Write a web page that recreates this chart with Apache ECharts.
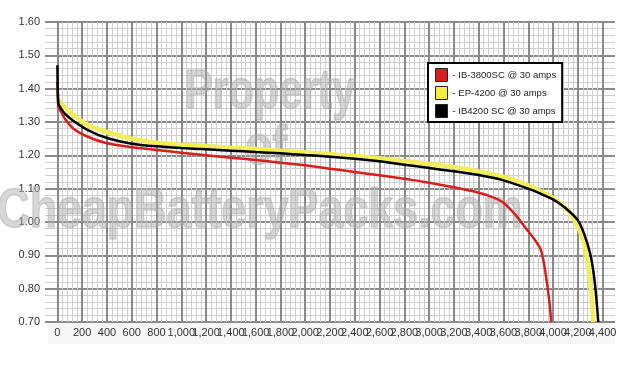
<!DOCTYPE html>
<html><head><meta charset="utf-8">
<script src="https://cdn.jsdelivr.net/npm/echarts@6/dist/echarts.min.js"></script>
<style>html,body{margin:0;padding:0;background:#fff}#c{width:640px;height:369px}</style>
</head><body><div id="c"></div>
<script>
const seriesNames = ['IB-3800SC @ 30 amps', 'EP-4200 @ 30 amps', 'IB4200 SC @ 30 amps'];
const redX = [0, 8, 30, 60, 130, 250, 400, 600, 800, 1000, 1200, 1400, 1600, 1800, 2000, 2200, 2400, 2600, 2800, 3000, 3200, 3400, 3500, 3600, 3700, 3800, 3850, 3900, 3920, 3940, 3960, 3975, 3985];
const redY = [1.42, 1.345, 1.33, 1.31, 1.28, 1.255, 1.236, 1.224, 1.216, 1.208, 1.200, 1.193, 1.186, 1.178, 1.170, 1.160, 1.150, 1.140, 1.130, 1.118, 1.104, 1.088, 1.076, 1.058, 1.020, 0.972, 0.948, 0.918, 0.888, 0.845, 0.792, 0.745, 0.700];
const yellowX = [0, 30, 130, 250, 400, 600, 800, 1000, 1200, 1400, 1600, 1800, 2000, 2200, 2400, 2600, 2800, 3000, 3200, 3400, 3600, 3800, 3900, 4000, 4100, 4150, 4200, 4230, 4260, 4290, 4310, 4325];
const yellowY = [1.37, 1.355, 1.32, 1.29, 1.27, 1.25, 1.238, 1.232, 1.228, 1.223, 1.219, 1.214, 1.209, 1.204, 1.198, 1.191, 1.183, 1.175, 1.165, 1.152, 1.135, 1.11, 1.092, 1.072, 1.042, 1.02, 0.985, 0.96, 0.92, 0.85, 0.78, 0.70];
const blackX = [0, 8, 30, 60, 130, 250, 400, 600, 800, 1000, 1200, 1400, 1600, 1800, 2000, 2200, 2400, 2600, 2800, 3000, 3200, 3400, 3600, 3800, 3900, 4000, 4100, 4200, 4250, 4300, 4330, 4350, 4365];
const blackY = [1.47, 1.355, 1.34, 1.325, 1.303, 1.275, 1.252, 1.235, 1.227, 1.222, 1.218, 1.214, 1.210, 1.206, 1.201, 1.196, 1.190, 1.182, 1.172, 1.162, 1.152, 1.141, 1.125, 1.100, 1.085, 1.068, 1.042, 1.005, 0.965, 0.905, 0.84, 0.77, 0.70];
const xTickMin = 0, xTickMax = 4400, xTickStep = 200;
const yMin = 0.7, yMax = 1.6, yStep = 0.1;
const watermark = ['Property', 'of', 'CheapBatteryPacks.com'];

function pairs(xs, ys) { return xs.map((x, i) => [x, ys[i]]); }
function commas(v) { return String(v).replace(/\B(?=(\d{3})+(?!\d))/g, ','); }

const XMIN = -100, XMAX = 4500;
const GL = 45, GR = 25, GT = 22, GB = 47;
const PW = 640 - GL - GR;
const pxPerUnit = PW / (XMAX - XMIN);
const innerLeft = GL + (xTickMin - XMIN) * pxPerUnit;
const innerWidth = (xTickMax - xTickMin) * pxPerUnit;
const MAJOR = '#8a8a8a', MINOR = '#cfcfcf';

const chart = echarts.init(document.getElementById('c'), null, {renderer: 'canvas'});
const wmStyle = {fill: 'rgba(170,170,170,0.47)', stroke: 'rgba(170,170,170,0.47)', lineWidth: 1.5,
  font: 'bold 56px "Liberation Sans", Arial', textAlign: 'center', textVerticalAlign: 'middle'};
chart.setOption({
  animation: false,
  backgroundColor: '#fff',
  grid: [
    {left: GL, right: GR, top: GT, bottom: GB, containLabel: false},
    {left: innerLeft, width: innerWidth, top: GT, bottom: GB, containLabel: false}
  ],
  graphic: [
    {type: 'rect', left: 48, top: 323, shape: {width: 567, height: 21}, style: {fill: '#f7f7f7'}, z: -10},
    {type: 'text', x: 270, y: 93, scaleX: 0.74, style: Object.assign({text: watermark[0]}, wmStyle), z: 1},
    {type: 'text', x: 266, y: 149, scaleX: 0.8, style: Object.assign({text: watermark[1]}, wmStyle), z: 1},
    {type: 'text', x: 260, y: 212, scaleX: 0.8, style: Object.assign({text: watermark[2]}, wmStyle), z: 1}
  ],
  legend: {
    orient: 'vertical', left: 428, top: 63,
    data: seriesNames,
    icon: 'rect', itemWidth: 12, itemHeight: 13, itemGap: 4,
    padding: [5, 6, 4, 7],
    backgroundColor: '#fff', borderColor: '#000', borderWidth: 2, borderRadius: 0,
    itemStyle: {borderColor: '#222', borderWidth: 1},
    formatter: n => '- ' + n,
    textStyle: {fontSize: 9.5, color: '#222', fontFamily: '"Liberation Sans", Arial'},
    z: 10
  },
  xAxis: [
    {type: 'value', gridIndex: 0, min: XMIN, max: XMAX, interval: 100,
     axisLine: {show: false}, axisTick: {show: false}, splitLine: {show: false},
     axisLabel: {margin: 5, fontSize: 11, color: '#333', fontFamily: '"Liberation Sans Narrow", "Liberation Sans", Arial',
       formatter: v => (v >= xTickMin && v <= xTickMax && v % xTickStep === 0) ? commas(v) : ''}},
    {type: 'value', gridIndex: 1, min: xTickMin, max: xTickMax, interval: xTickStep,
     axisLine: {show: false}, axisTick: {show: false}, axisLabel: {show: false},
     splitLine: {show: true, lineStyle: {color: MAJOR, width: 2}},
     minorTick: {show: false, splitNumber: 5},
     minorSplitLine: {show: true, lineStyle: {color: MINOR, width: 1}}}
  ],
  yAxis: [
    {type: 'value', gridIndex: 0, min: yMin, max: yMax, interval: yStep,
     axisLine: {show: false}, axisTick: {show: false},
     axisLabel: {margin: 5, fontSize: 11, color: '#333', fontFamily: '"Liberation Sans", Arial', formatter: v => v.toFixed(2)},
     splitLine: {show: true, lineStyle: {color: MAJOR, width: 2}},
     minorTick: {show: false, splitNumber: 5},
     minorSplitLine: {show: true, lineStyle: {color: MINOR, width: 1}}},
    {type: 'value', gridIndex: 1, min: yMin, max: yMax, interval: yStep,
     axisLine: {show: false}, axisTick: {show: false}, axisLabel: {show: false}, splitLine: {show: false}}
  ],
  series: [
    {name: seriesNames[0], type: 'line', xAxisIndex: 0, yAxisIndex: 0, data: pairs(redX, redY), showSymbol: false, symbol: 'none', smooth: 0.2, z: 3,
     color: '#d81e1e', lineStyle: {color: '#d81e1e', width: 2.5}},
    {name: seriesNames[1], type: 'line', xAxisIndex: 0, yAxisIndex: 0, data: pairs(yellowX, yellowY), showSymbol: false, symbol: 'none', smooth: 0.2, z: 2,
     color: '#f4f03a', lineStyle: {color: '#f2ee5a', width: 4.5}},
    {name: seriesNames[2], type: 'line', xAxisIndex: 0, yAxisIndex: 0, data: pairs(blackX, blackY), showSymbol: false, symbol: 'none', smooth: 0.2, z: 4,
     color: '#000', lineStyle: {color: '#000', width: 2.5}}
  ]
});
</script></body></html>
